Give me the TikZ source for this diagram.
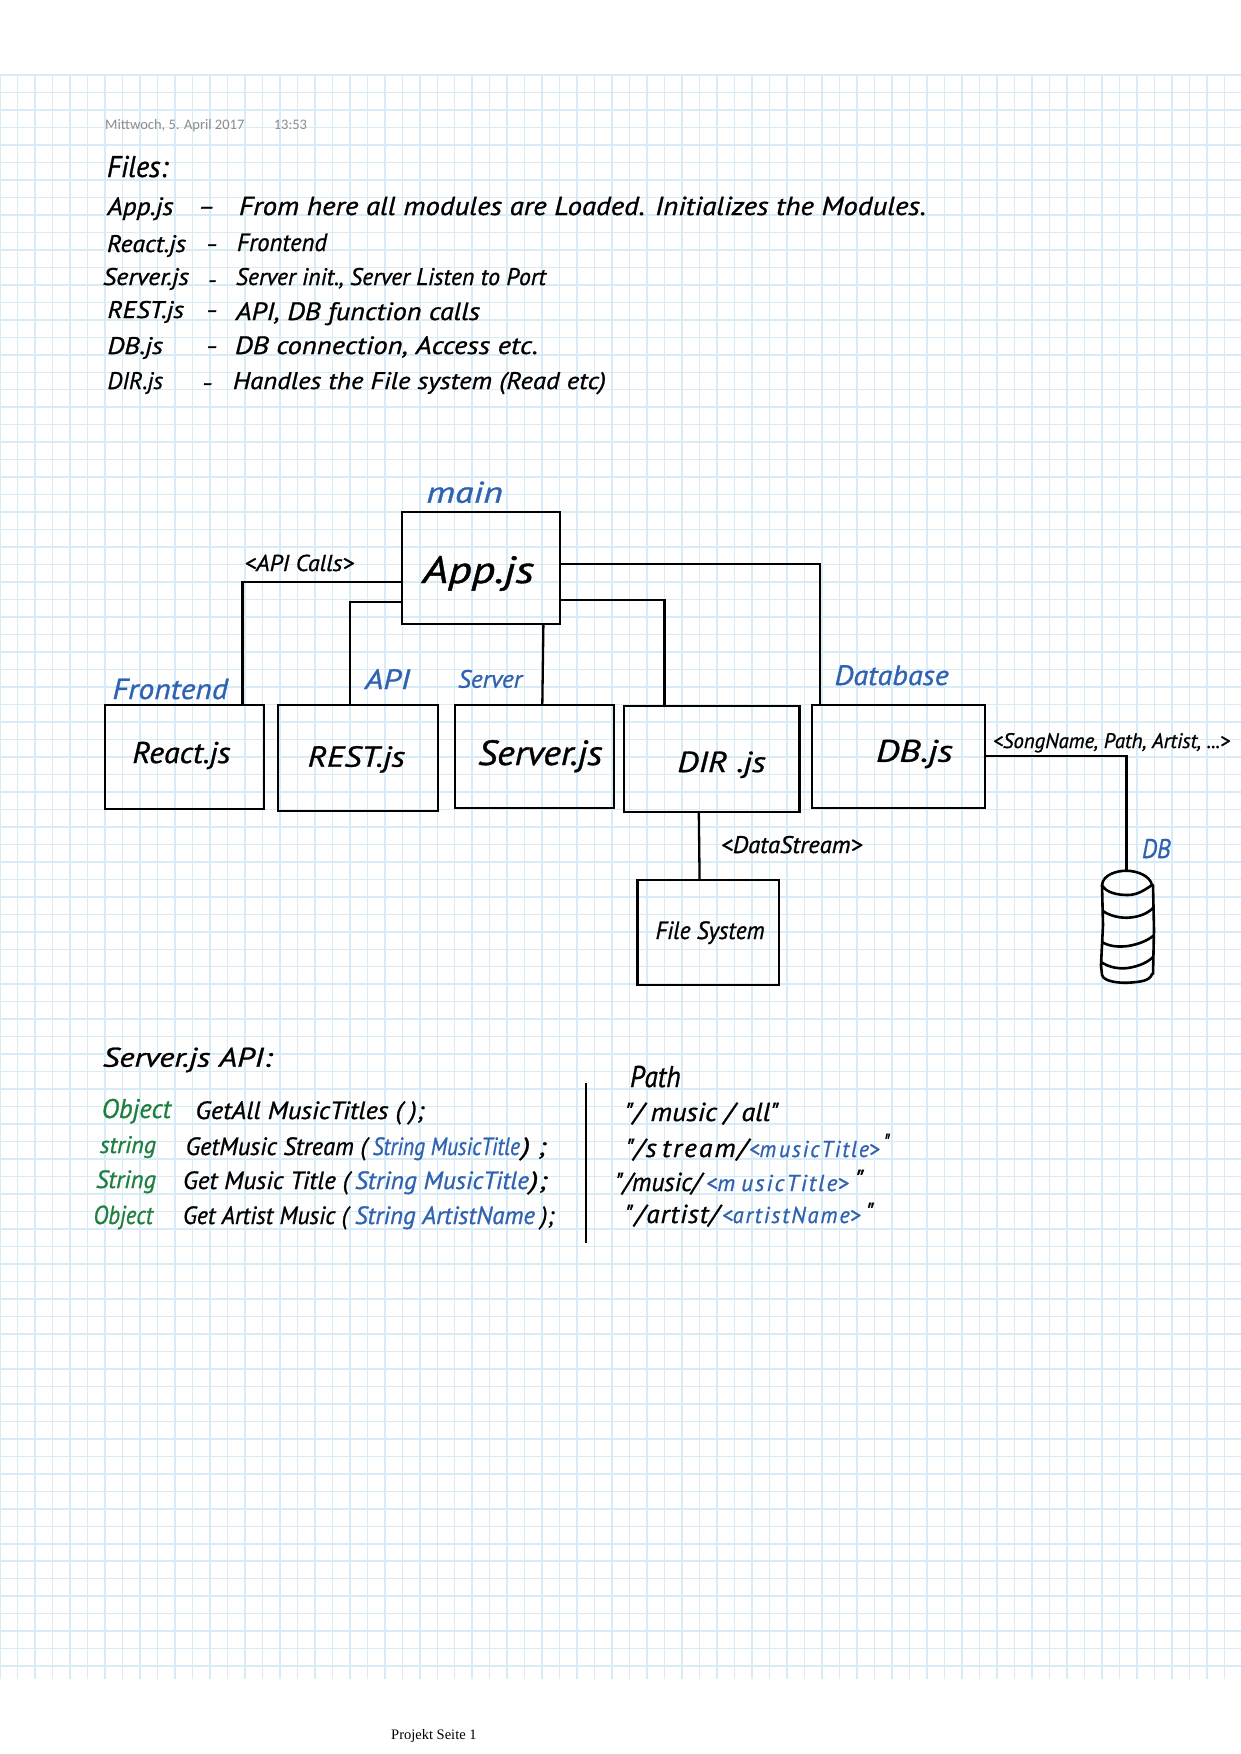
\documentclass[tikz,border=0pt]{standalone}
\usepackage{fontspec}
\setmainfont{Liberation Serif}
\newfontfamily\hand[ItalicFont={* Italic},ItalicFeatures={FakeBold=0.9}]{PT Sans}
\newfontfamily\note{Carlito}
\definecolor{gridc}{HTML}{D8ECF8}
\definecolor{inkblue}{HTML}{2F62B0}
\definecolor{inkgreen}{HTML}{1F7F3F}
\definecolor{stampgray}{HTML}{8C8C8C}
\newcommand{\hw}[7]{%
  \node[anchor=base west,inner sep=0pt,outer sep=0pt,text=#6] (#1) at (#2,#3)
    {\resizebox{#4pt}{\height}{\fontsize{#5}{#5}\selectfont\hand\itshape #7}};}
\newcommand{\bx}[5]{%
  \node[boxc,minimum width={(#4-#2)*1pt},minimum height={(#5-#3)*1pt}] (#1) at ({(#2+#4)/2},{(#3+#5)/2}) {};}
\tikzset{
  boxc/.style={draw=black,line width=2.3pt,inner sep=0pt,outer sep=0pt},
  wire/.style={draw=black,line width=2.3pt},
  gridline/.style={draw=gridc,line width=1.5pt}
}
\begin{document}
\begin{tikzpicture}[x=1pt,y=-1pt]
\useasboundingbox (0,0) rectangle (1241,1754);
\fill[white] (0,0) rectangle (1241,1754);
% paper grid
\foreach \k in {0,...,70} \draw[gridline] ({\k*17.49},75) -- ({\k*17.49},1679);
\foreach \k in {0,...,91} \draw[gridline] (0,{75+\k*17.485}) -- (1241,{75+\k*17.485});
% stamp
\node[anchor=base west,inner sep=0pt,text=stampgray,font=\note\fontsize{14.5}{14.5}\selectfont] (stampa) at (105,129) {Mittwoch, 5. April 2017};
\node[anchor=base west,inner sep=0pt,text=stampgray,font=\note\fontsize{14.5}{14.5}\selectfont] (stampb) at (273.6,129) {13:53};
\node[anchor=base west,inner sep=0pt,text=black,font=\fontsize{14.5}{14.5}\selectfont] (footer) at (391,1739) {Projekt Seite 1};
% file list
\hw{files}{107}{177}{61}{30}{black}{Files:}
\hw{la}{107.5}{215}{66}{25}{black}{App.js}
\hw{da}{198}{215}{17}{25}{black}{–}
\hw{lat}{239}{215}{687}{26}{black}{From here all modules are Loaded. Initializes the Modules.}
\hw{lb}{107}{252}{79}{24}{black}{React.js}
\hw{db}{206}{252}{12}{24}{black}{–}
\hw{lbt}{237}{251}{90}{25}{black}{Frontend}
\hw{lc}{103}{285}{86}{24}{black}{Server.js}
\hw{dc}{208}{288}{9}{24}{black}{–}
\hw{lct}{236}{285}{310}{24}{black}{Server init., Server Listen to Port}
\hw{ld}{107.5}{318}{76.5}{24}{black}{REST.js}
\hw{dd}{206}{318}{12}{24}{black}{–}
\hw{ldt}{236}{320}{244}{25}{black}{API, DB function calls}
\hw{le}{107.5}{354}{55.5}{24}{black}{DB.js}
\hw{de}{206}{354}{12}{24}{black}{–}
\hw{let}{235}{354}{303}{25}{black}{DB connection, Access etc.}
\hw{lf}{107.5}{389}{55.5}{24}{black}{DIR.js}
\hw{df}{202}{391}{11}{24}{black}{–}
\hw{lft}{233}{389}{373}{24}{black}{Handles the File system (Read etc)}
% boxes
\bx{app}{402.2}{512.3}{559.9}{624.3}
\bx{react}{104.9}{704.7}{263.7}{809}
\bx{rest}{278.2}{705}{437.8}{811.3}
\bx{server}{455}{705.3}{613.9}{808.3}
\bx{dir}{624}{706}{799.4}{812}
\bx{dbjs}{811.7}{704.7}{984.8}{808}
\bx{fs}{637.4}{879.7}{779.2}{984.7}
% box texts
\hw{tapp}{422.5}{583}{111.5}{38}{black}{App.js}
\hw{treact}{132.4}{763}{98}{30}{black}{React.js}
\hw{trest}{307.7}{766.7}{97.3}{29}{black}{REST.js}
\hw{tserver}{478}{765}{124.4}{35}{black}{Server.js}
\hw{tdir}{677.4}{772}{88.3}{29}{black}{DIR .js}
\hw{tdb}{876}{761.7}{76.7}{31}{black}{DB.js}
\hw{tfs}{655.6}{939}{109}{25}{black}{File System}
% labels
\hw{lmain}{426.3}{502.7}{76.6}{30}{inkblue}{main}
\hw{lfront}{112.5}{699}{115.5}{29}{inkblue}{Frontend}
\hw{lapi}{365}{689}{45}{28}{inkblue}{API}
\hw{lserv}{458}{687.7}{64}{25}{inkblue}{Server}
\hw{ldata}{834.6}{685}{114.1}{28}{inkblue}{Database}
\hw{ldb}{1142}{858}{28.5}{27}{inkblue}{DB}
\hw{lcalls}{244.6}{571}{109.4}{23}{black}{<API Calls>}
\hw{lsong}{993}{748}{237}{21}{black}{<SongName, Path, Artist, ...>}
\hw{lstream}{721}{853}{141.4}{24}{black}{<DataStream>}
% connectors
\coordinate (cyltop) at (1126.5,870.7);
\draw[wire] (app.west |- 0,582) -| (242.6,0 |- react.north);
\draw[wire] (app.west |- 0,602) -| (349.8,0 |- rest.north);
\draw[wire] (543.4,0 |- app.south) -- (542.3,0 |- server.north);
\draw[wire] (app.east |- 0,564.3) -| (820,0 |- dbjs.north);
\draw[wire] (app.east |- 0,599.7) -| (664.4,0 |- dir.north);
\draw[wire] (698.8,0 |- dir.south) -- (699.6,0 |- fs.north);
\draw[wire] (dbjs.east |- 0,755.7) -| (cyltop);
% database cylinder
\draw[wire,line width=2.6pt,line join=round,line cap=round]
  (1102,885) .. controls (1103,874) and (1118,870.7) .. (cyltop)
  .. controls (1138,871) and (1150,876) .. (1152,885)
  .. controls (1146,889) and (1138,895) .. (1128,895)
  .. controls (1118,895) and (1106,893) .. (1102,885)
  (1102,885) -- (1103,925) -- (1101,965) -- (1102,975)
  .. controls (1104,982) and (1120,983) .. (1128,982.7)
  .. controls (1140,982) and (1150,981) .. (1152,974)
  (1153,885) -- (1154,930) -- (1153,974)
  (1103,911) .. controls (1110,916) and (1120,918) .. (1128,917.7)
  .. controls (1140,917) and (1148,913) .. (1153,908)
  (1102,942) .. controls (1110,947) and (1120,947) .. (1128,946)
  .. controls (1140,944) and (1148,940) .. (1153,936)
  (1101,962) .. controls (1110,968) and (1120,969) .. (1128,968)
  .. controls (1140,966) and (1148,962) .. (1153,957);
% API section
\hw{sapi}{102.8}{1066.7}{169.6}{27}{black}{Server.js API:}
\hw{spath}{630}{1087}{50.6}{30}{black}{Path}
\draw[wire] (586,1083) -- (586,1243);
\hw{ra}{101.7}{1118}{69.3}{27}{inkgreen}{Object}
\hw{rb}{195.4}{1119}{228.6}{25}{black}{GetAll MusicTitles ( );}
\hw{sa}{100}{1153}{56}{24}{inkgreen}{string}
\hw{sb}{185.7}{1155}{181.3}{25}{black}{GetMusic Stream (}
\hw{sc}{372.7}{1155}{147.3}{25}{inkblue}{String MusicTitle}
\hw{sd}{522}{1155}{24}{25}{black}{)\kern6pt;}
\hw{ta}{96}{1188}{60}{25}{inkgreen}{String}
\hw{tb}{183}{1189}{166.4}{25}{black}{Get Music Title (}
\hw{tc}{355}{1189}{174}{25}{inkblue}{String MusicTitle}
\hw{td}{530}{1189}{17}{25}{black}{);}
\hw{ua}{93.5}{1224}{59.5}{26}{inkgreen}{Object}
\hw{ub}{183}{1224}{165}{25}{black}{Get Artist Music (}
\hw{uc}{355}{1224}{180}{25}{inkblue}{String ArtistName}
\hw{ud}{541}{1224}{13}{25}{black}{);}
\hw{pa}{625}{1121}{154}{26}{black}{"/ music / all"}
\hw{pb}{626}{1157}{121}{26}{black}{"/\kern2pt s\kern5pt t\kern2pt r\kern2pt e\kern2pt a\kern2pt m\kern2pt/}
\hw{pc}{749}{1157}{130.5}{23}{inkblue}{<m\kern3pt u\kern2pt s\kern2pt i\kern2pt c\kern2pt T\kern2pt i\kern2pt t\kern2pt l\kern2pt e>}
\hw{pd}{884}{1152}{6}{26}{black}{"}
\hw{qa}{615.5}{1191}{85.1}{26}{black}{"/music/}
\hw{qb}{706}{1191}{142.6}{23}{inkblue}{<m\kern6pt u\kern2pt s\kern2pt i\kern2pt c\kern2pt T\kern2pt i\kern2pt t\kern2pt l\kern2pt e>}
\hw{qc}{855}{1188}{9}{26}{black}{"}
\hw{va}{625}{1223}{93.5}{26}{black}{"\kern2pt/\kern2pt a\kern1pt r\kern1pt t\kern1pt i\kern1pt s\kern1pt t\kern1pt/}
\hw{vb}{722}{1223}{138.5}{23}{inkblue}{<a\kern2pt r\kern2pt t\kern2pt i\kern2pt s\kern2pt t\kern2pt N\kern2pt a\kern2pt m\kern2pt e>}
\hw{vc}{866}{1221}{8}{26}{black}{"}
\end{tikzpicture}
\end{document}
